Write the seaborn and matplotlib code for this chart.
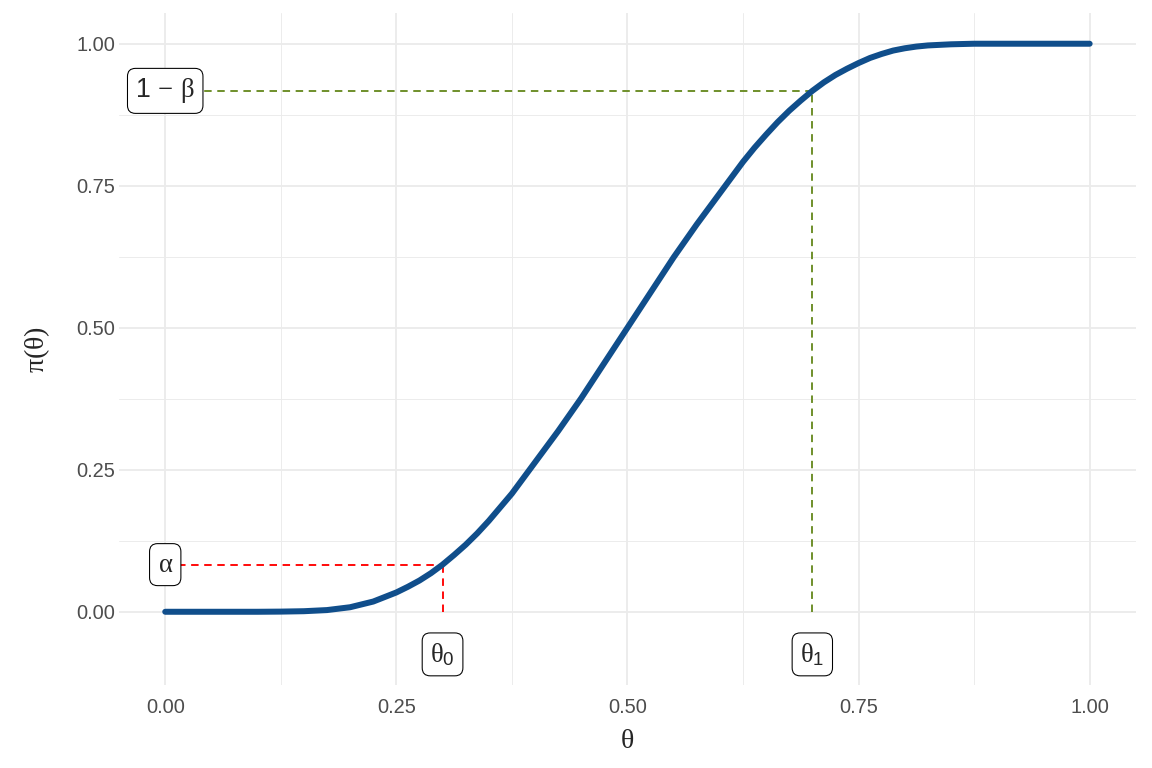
import matplotlib
matplotlib.use("Agg")
import matplotlib.pyplot as plt
import seaborn as sns
import pandas as pd
import numpy as np

# power curve values
theta = [0.0, 0.05, 0.1, 0.125, 0.15, 0.175, 0.2, 0.225, 0.25, 0.2625, 0.275,
         0.2875, 0.3, 0.3125, 0.325, 0.3375, 0.35, 0.375, 0.4, 0.425, 0.45,
         0.475, 0.5, 0.525, 0.55, 0.575, 0.6, 0.625, 0.6375, 0.65, 0.6625,
         0.675, 0.6875, 0.7, 0.7125, 0.725, 0.7375, 0.75, 0.7625, 0.775,
         0.7875, 0.8, 0.8125, 0.825, 0.85, 0.875, 0.9, 0.95, 1.0]
power = [0.0, 0.0, 0.0, 0.0003, 0.001, 0.003, 0.008, 0.018, 0.034, 0.044, 0.055,
         0.068, 0.083, 0.1, 0.118, 0.138, 0.16, 0.208, 0.263, 0.318, 0.376,
         0.438, 0.5, 0.562, 0.624, 0.682, 0.737, 0.792, 0.817, 0.84, 0.862,
         0.882, 0.9, 0.917, 0.932, 0.945, 0.956, 0.966, 0.975, 0.982,
         0.988, 0.992, 0.995, 0.997, 0.999, 1.0, 1.0, 1.0, 1.0]

theta0, theta1 = 0.3, 0.7
alpha_level, power_level = 0.083, 0.917
label_y = -0.075

df = pd.DataFrame({'theta': theta, 'power': power})

sns.set_theme(style='whitegrid')
plt.rcParams['font.family'] = ['Liberation Sans', 'DejaVu Sans']
plt.rcParams['mathtext.fontset'] = 'custom'
plt.rcParams['mathtext.rm'] = 'Liberation Serif'
plt.rcParams['mathtext.it'] = 'Liberation Serif'
plt.rcParams['mathtext.sf'] = 'Liberation Sans'
plt.rcParams['mathtext.default'] = 'rm'

fig, ax = plt.subplots(figsize=(12, 8), dpi=96)
fig.subplots_adjust(left=0.1033, right=0.986, top=0.983, bottom=0.108)

# reference lines
dash = (0, (4, 3))
ax.plot([0, theta0], [alpha_level, alpha_level], color='red', linestyle=dash, linewidth=1.4)
ax.plot([theta0, theta0], [0, alpha_level], color='red', linestyle=dash, linewidth=1.4)
ax.plot([0, theta1], [power_level, power_level], color='#698B22', linestyle=dash, linewidth=1.4)
ax.plot([theta1, theta1], [0, power_level], color='#698B22', linestyle=dash, linewidth=1.4)

sns.lineplot(data=df, x='theta', y='power', color='#104E8B', linewidth=4.5, ax=ax)

box = dict(boxstyle='round,pad=0.3,rounding_size=0.3', facecolor='white', edgecolor='black', linewidth=0.8)
ax.text(0, power_level, r'$\mathsf{1}\,-\,\beta$', ha='center', va='center', fontsize=20, bbox=box)
ax.text(0, alpha_level, r'$\alpha$', ha='center', va='center', fontsize=20, bbox=box)
ax.text(theta0, label_y, r'$\theta_{\mathsf{0}}$', ha='center', va='center', fontsize=20, bbox=box)
ax.text(theta1, label_y, r'$\theta_{\mathsf{1}}$', ha='center', va='center', fontsize=20, bbox=box)

ax.set_xlim(-0.05, 1.05)
ax.set_ylim(-0.129, 1.054)
ax.set_xticks([0, 0.25, 0.5, 0.75, 1.0])
ax.set_yticks([0, 0.25, 0.5, 0.75, 1.0])
ax.set_xticklabels(['0.00', '0.25', '0.50', '0.75', '1.00'])
ax.set_yticklabels(['0.00', '0.25', '0.50', '0.75', '1.00'])
ax.set_xticks([0.125, 0.375, 0.625, 0.875], minor=True)
ax.set_yticks([0.125, 0.375, 0.625, 0.875], minor=True)
ax.tick_params(axis='both', which='both', length=0, labelsize=15, labelcolor='#4D4D4D')
ax.tick_params(axis='x', pad=10)
ax.tick_params(axis='y', pad=3)
ax.grid(True, which='major', color='#EBEBEB', linewidth=1.4)
ax.grid(True, which='minor', color='#EBEBEB', linewidth=0.7)
for s in ax.spines.values():
    s.set_visible(False)

ax.set_xlabel(r'$\theta$', fontsize=21, labelpad=8)
ax.set_ylabel(r'$\pi(\theta)$', fontsize=21, labelpad=18)

plt.savefig('out.png', dpi=96)
